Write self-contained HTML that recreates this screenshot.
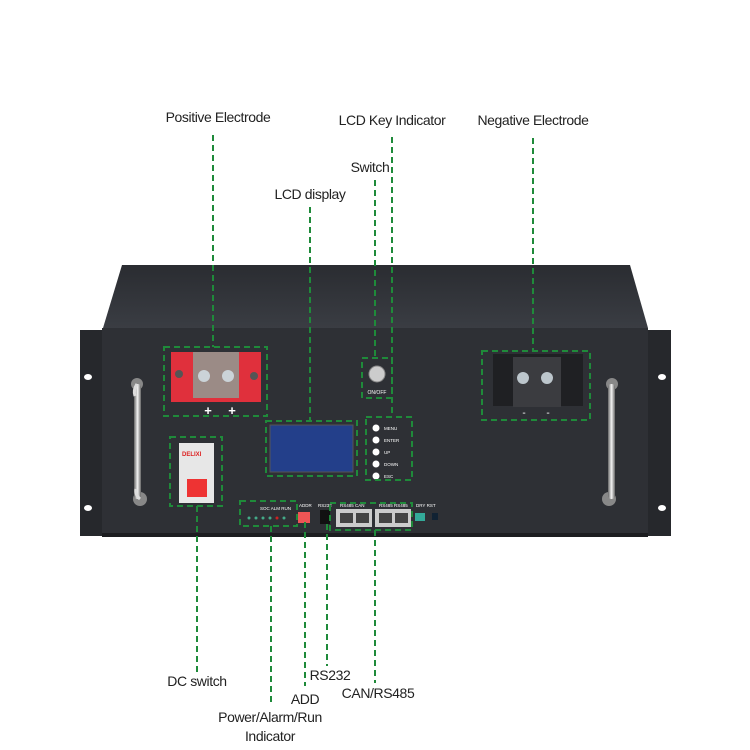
<!DOCTYPE html>
<html><head><style>
body{margin:0;width:750px;height:750px;background:#fff;position:relative;overflow:hidden;font-family:"Liberation Sans",sans-serif}
.t{position:absolute;font-size:14px;color:#222;white-space:nowrap;transform:translateX(-50%);letter-spacing:-0.4px}
svg{position:absolute;left:0;top:0}
</style></head><body>
<svg width="750" height="750" viewBox="0 0 750 750">
<defs><linearGradient id="top" x1="0" y1="0" x2="0" y2="1"><stop offset="0" stop-color="#2a2c31"/><stop offset="1" stop-color="#3a3d43"/></linearGradient>
<linearGradient id="h" x1="0" y1="0" x2="1" y2="0"><stop offset="0" stop-color="#666"/><stop offset=".5" stop-color="#f4f4f4"/><stop offset="1" stop-color="#666"/></linearGradient></defs>
<polygon points="122,265 630,265 648,328 103,328" fill="url(#top)"/>
<rect x="80" y="330" width="26" height="206" fill="#26282c"/>
<rect x="645" y="330" width="26" height="206" fill="#26282c"/>
<ellipse cx="88" cy="377" rx="4" ry="3" fill="#fff"/><ellipse cx="88" cy="508" rx="4" ry="3" fill="#fff"/>
<ellipse cx="662" cy="377" rx="4" ry="3" fill="#fff"/><ellipse cx="662" cy="508" rx="4" ry="3" fill="#fff"/>
<rect x="102" y="328" width="546" height="208" fill="#2e3035"/>
<rect x="102" y="533" width="546" height="4" fill="#1c1d20"/>
<!-- handles -->
<circle cx="137" cy="384" r="6" fill="#888"/><circle cx="140" cy="499" r="7" fill="#888"/>
<rect x="134" y="384" width="7" height="115" rx="3" fill="url(#h)"/>
<path d="M137,384 q-4,6 -2,12 M140,499 q-5,-4 -4,-10" stroke="#ddd" stroke-width="3" fill="none"/>
<circle cx="612" cy="384" r="6" fill="#888"/><circle cx="609" cy="499" r="7" fill="#888"/>
<rect x="608" y="384" width="7" height="115" rx="3" fill="url(#h)"/>
<!-- positive terminal -->
<rect x="171" y="352" width="90" height="50" fill="#e0303c"/>
<rect x="193" y="352" width="46" height="46" fill="#9b8b86"/>
<circle cx="204" cy="376" r="6" fill="#cbd3d8"/><circle cx="228" cy="376" r="6" fill="#cbd3d8"/>
<circle cx="179" cy="374" r="4" fill="#555"/><circle cx="254" cy="376" r="4" fill="#555"/>
<text x="208" y="415" fill="#fff" font-size="13" font-weight="bold" text-anchor="middle">+</text>
<text x="232" y="415" fill="#fff" font-size="13" font-weight="bold" text-anchor="middle">+</text>
<rect x="493" y="354" width="90" height="52" fill="#1f2023"/>
<rect x="513" y="357" width="48" height="50" fill="#3b3c40"/>
<circle cx="523" cy="378" r="6" fill="#bcc6cc"/><circle cx="547" cy="378" r="6" fill="#bcc6cc"/>
<text x="524" y="416" fill="#fff" font-size="10" text-anchor="middle">-</text><text x="548" y="416" fill="#fff" font-size="10" text-anchor="middle">-</text>
<circle cx="377" cy="374" r="8" fill="#ccc" stroke="#888"/>
<text x="377" y="394" fill="#fff" font-size="5" text-anchor="middle">ON/OFF</text>
<rect x="270" y="425" width="83" height="47" fill="#233f8a" stroke="#555"/>
<g fill="#fff" font-size="4.5">
<circle cx="376" cy="428" r="3.5"/><text x="384" y="430">MENU</text>
<circle cx="376" cy="440" r="3.5"/><text x="384" y="442">ENTER</text>
<circle cx="376" cy="452" r="3.5"/><text x="384" y="454">UP</text>
<circle cx="376" cy="464" r="3.5"/><text x="384" y="466">DOWN</text>
<circle cx="376" cy="476" r="3.5"/><text x="384" y="478">ESC</text>
</g>
<rect x="179" y="443" width="35" height="60" fill="#e7e7e7"/>
<text x="182" y="456" fill="#d22" font-size="6" font-weight="bold">DELIXI</text>
<rect x="187" y="479" width="20" height="18" fill="#e33"/>
<g fill="#fff" font-size="4.5">
<text x="260" y="510">SOC ALM RUN</text><text x="299" y="507">ADDR</text><text x="318" y="507">RS232</text>
<text x="340" y="507">RS485 CAN</text><text x="379" y="507">RS485 RS485</text><text x="416" y="507">DRY RST</text></g>
<g fill="#4a8"><circle cx="249" cy="518" r="1.5"/><circle cx="256" cy="518" r="1.5"/><circle cx="263" cy="518" r="1.5"/><circle cx="270" cy="518" r="1.5"/><circle cx="284" cy="518" r="1.5"/></g>
<circle cx="277" cy="518" r="1.5" fill="#c22"/>
<rect x="298" y="512" width="12" height="11" fill="#e55"/>
<rect x="320" y="510" width="10" height="14" fill="#111"/>
<rect x="336" y="509" width="36" height="18" fill="#ccc"/><rect x="340" y="513" width="13" height="10" fill="#444"/><rect x="356" y="513" width="13" height="10" fill="#444"/>
<rect x="375" y="509" width="36" height="18" fill="#ccc"/><rect x="379" y="513" width="13" height="10" fill="#444"/><rect x="395" y="513" width="13" height="10" fill="#444"/>
<rect x="415" y="513" width="10" height="8" fill="#3a9"/><rect x="432" y="513" width="6" height="7" fill="#123"/>
<g stroke="#1f8a3a" stroke-width="2" stroke-dasharray="6,4" fill="none">
<rect x="164" y="347" width="103" height="69"/>
<rect x="482" y="351" width="108" height="69"/>
<rect x="362" y="358" width="30" height="40"/>
<rect x="266" y="421" width="91" height="55"/>
<rect x="366" y="417" width="46" height="63"/>
<rect x="170" y="437" width="52" height="69"/>
<rect x="240" y="501" width="57" height="25"/>
<rect x="330" y="503" width="82" height="27"/>
<line x1="213" y1="135" x2="213" y2="347"/>
<line x1="310" y1="207" x2="310" y2="421"/>
<line x1="375" y1="180" x2="375" y2="358"/>
<line x1="392" y1="137" x2="392" y2="417"/>
<line x1="533" y1="138" x2="533" y2="351"/>
<line x1="197" y1="506" x2="197" y2="672"/>
<line x1="271" y1="526" x2="271" y2="704"/>
<line x1="305" y1="522" x2="305" y2="686"/>
<line x1="327" y1="524" x2="327" y2="666"/>
<line x1="375" y1="530" x2="375" y2="683"/>
</g>
</svg>
<div class="t" style="left:218px;top:109px">Positive Electrode</div>
<div class="t" style="left:392px;top:112px">LCD Key Indicator</div>
<div class="t" style="left:533px;top:112px">Negative Electrode</div>
<div class="t" style="left:370px;top:159px">Switch</div>
<div class="t" style="left:310px;top:186px">LCD display</div>
<div class="t" style="left:197px;top:673px">DC switch</div>
<div class="t" style="left:330px;top:667px">RS232</div>
<div class="t" style="left:305px;top:691px">ADD</div>
<div class="t" style="left:378px;top:685px">CAN/RS485</div>
<div class="t" style="left:270px;top:709px">Power/Alarm/Run</div>
<div class="t" style="left:270px;top:728px">Indicator</div>
</body></html>
